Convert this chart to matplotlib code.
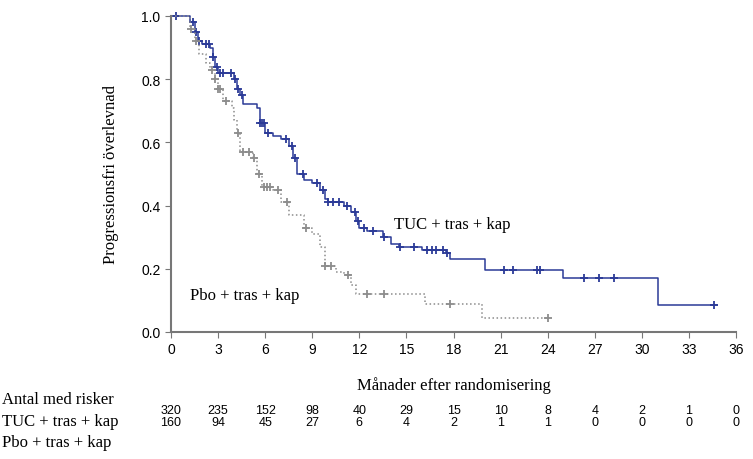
import numpy as np
import matplotlib
matplotlib.use('Agg')
import matplotlib.pyplot as plt

# step curves: (time in months, survival)
tuc_t = [0, 1.2, 1.5, 1.7, 2.0, 2.5, 2.7, 2.8, 3.0, 3.6, 4.0, 4.2, 4.4, 4.6, 5.5, 5.7, 6.0, 6.5, 7.0, 7.5, 7.8, 8.0, 8.5, 9.0, 9.5,
         9.8, 10.0, 11.0, 11.5, 11.8, 12.0, 12.5, 13.5, 14.0, 14.5, 16.0, 17.5, 17.8, 20.0, 25.0, 31.0, 34.8]
tuc_s = [1.0, 0.98, 0.95, 0.92, 0.91, 0.90, 0.87, 0.84, 0.82, 0.82, 0.80, 0.77, 0.75, 0.72, 0.71, 0.66, 0.63, 0.62, 0.61, 0.59,
         0.55, 0.50, 0.48, 0.47, 0.45, 0.42, 0.41, 0.40, 0.38, 0.35, 0.33, 0.32, 0.30, 0.28, 0.27, 0.26, 0.25, 0.23, 0.195, 0.17,
         0.085, 0.085]
tuc_cens = [0.3, 1.4, 1.6, 1.8, 2.2, 2.4, 2.7, 2.9, 3.1, 3.3, 3.8, 4.1, 4.3, 4.5, 5.7, 5.8, 5.9, 6.2, 7.3, 7.7, 7.9, 8.4, 9.3,
            9.7, 10.0, 10.3, 10.7, 11.2, 11.7, 11.9, 12.3, 12.9, 13.6, 14.6, 15.5, 16.3, 16.6, 16.9, 17.3, 17.6, 21.2, 21.8,
            23.3, 23.5, 26.3, 27.3, 28.2, 34.6]
pbo_t = [0, 1.2, 1.5, 1.8, 2.2, 2.5, 2.8, 3.0, 3.3, 3.9, 4.0, 4.2, 4.4, 5.2, 5.5, 5.8, 6.5, 7.0, 7.5, 8.5, 9.0, 9.5, 9.8, 10.5,
         11.0, 11.5, 11.8, 16.2, 19.8, 24.0]
pbo_s = [1.0, 0.96, 0.92, 0.88, 0.85, 0.83, 0.80, 0.77, 0.73, 0.71, 0.67, 0.63, 0.57, 0.55, 0.50, 0.46, 0.45, 0.41, 0.37, 0.33,
         0.31, 0.27, 0.21, 0.19, 0.18, 0.15, 0.12, 0.09, 0.045, 0.045]
pbo_cens = [1.3, 1.6, 2.6, 2.8, 3.0, 3.1, 3.5, 4.3, 4.6, 5.0, 5.3, 5.6, 5.9, 6.1, 6.3, 6.8, 7.4, 8.6, 9.8, 10.2, 11.3, 12.5,
            13.6, 17.8, 24.0]

ticks = list(range(0, 37, 3))
risk_tuc = [320, 235, 152, 98, 40, 29, 15, 10, 8, 4, 2, 1, 0]
risk_pbo = [160, 94, 45, 27, 6, 4, 2, 1, 1, 0, 0, 0, 0]

blue = '#2b3a97'
grey = '#8c8c8c'

def step_val(t, s, x):
    i = np.searchsorted(t, x, side='right') - 1
    return np.array(s)[i]

fig = plt.figure(figsize=(7.53, 4.6), dpi=100)
ax = fig.add_axes([171 / 753, 1 - 333 / 460, 565 / 753, 316 / 460])

ax.step(tuc_t, tuc_s, where='post', color=blue, lw=1.1, clip_on=False)
ax.plot(tuc_cens, step_val(tuc_t, tuc_s, tuc_cens), '+', color=blue, ms=6, mew=1.3, clip_on=False)
ax.step(pbo_t, pbo_s, where='post', color=grey, lw=1.1, ls=':', clip_on=False)
ax.plot(pbo_cens, step_val(pbo_t, pbo_s, pbo_cens), '+', color=grey, ms=6, mew=1.3, clip_on=False)

ax.set_xlim(0, 36)
ax.set_ylim(0, 1.0)
ax.set_xticks(ticks)
ax.set_yticks([0, 0.2, 0.4, 0.6, 0.8, 1.0])
ax.set_yticklabels(['0.0', '0.2', '0.4', '0.6', '0.8', '1.0'])
ax.tick_params(labelsize=10, length=4, color='#777777')
for lab in ax.get_xticklabels() + ax.get_yticklabels():
    lab.set_fontfamily('Liberation Sans')
for side in ['top', 'right']:
    ax.spines[side].set_visible(False)
for side in ['left', 'bottom']:
    ax.spines[side].set_color('#777777')
    ax.spines[side].set_linewidth(1.5)

serif = 'Liberation Serif'
ax.set_xlabel('Månader efter randomisering', fontfamily=serif, fontsize=12, labelpad=14)
ax.set_ylabel('Progressionsfri överlevnad', fontfamily=serif, fontsize=12, labelpad=16)
ax.text(14.2, 0.33, 'TUC + tras + kap', fontfamily=serif, fontsize=12)
ax.text(1.2, 0.105, 'Pbo + tras + kap', fontfamily=serif, fontsize=12)

fig.text(2 / 753, 1 - 400 / 460, 'Antal med risker', fontfamily=serif, fontsize=12, va='center')
fig.text(2 / 753, 1 - 422 / 460, 'TUC + tras + kap', fontfamily=serif, fontsize=12, va='center')
fig.text(2 / 753, 1 - 443 / 460, 'Pbo + tras + kap', fontfamily=serif, fontsize=12, va='center')
for tk, a, b in zip(ticks, risk_tuc, risk_pbo):
    xf = (171 + tk * 565 / 36) / 753
    fig.text(xf, 1 - 411 / 460, str(a), fontfamily='Liberation Sans', fontsize=9, ha='center', va='center')
    fig.text(xf, 1 - 423 / 460, str(b), fontfamily='Liberation Sans', fontsize=9, ha='center', va='center')

fig.savefig('out.png', dpi=100)
